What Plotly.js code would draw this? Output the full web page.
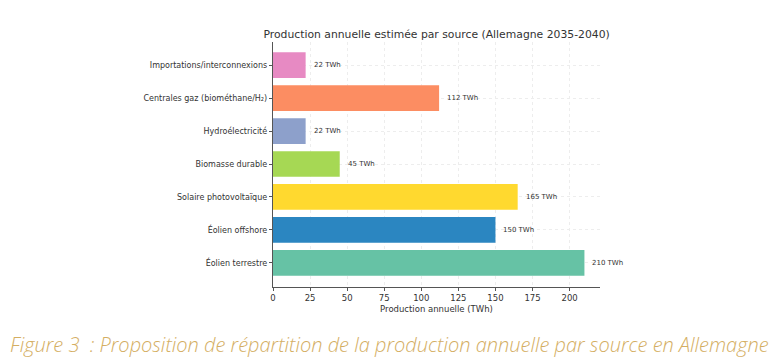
<!DOCTYPE html>
<html><head><meta charset="utf-8">
<script src="https://cdn.plot.ly/plotly-3.0.1.min.js"></script>
<style>html,body{margin:0;padding:0;background:#fff;}#chart{width:772px;height:361px;}</style>
</head><body><div id="chart"></div>
<script>
const categories = ["Éolien terrestre","Éolien offshore","Solaire photovoltaïque","Biomasse durable","Hydroélectricité","Centrales gaz (biométhane/H₂)","Importations/interconnexions"];
const values = [210,150,165,45,22,112,22];
const colors = ["#66c2a5","#2b86c1","#ffd92f","#a6d854","#8da0cb","#fc8d62","#e78ac3"];
const labels = values.map(v => v + " TWh");
const xTicks = [0,25,50,75,100,125,150,175,200];

const trace = {
  type: "bar", orientation: "h",
  y: categories, x: values,
  marker: {color: colors},
  width: 0.78,
  hoverinfo: "none"
};
const annotations = categories.map((c,i) => ({
  x: values[i], y: c, xref: "x", yref: "y", text: labels[i],
  showarrow: false, xanchor: "left", xshift: 6,
  font: {family: "DejaVu Sans", size: 7, color: "#333"}
}));
annotations.push({
  x: 0, xref: "paper", xanchor: "left", xshift: -265,
  y: -0.235, yref: "paper", yanchor: "middle",
  text: "<i>Figure 3  : Proposition de répartition de la production annuelle par source en Allemagne</i>",
  showarrow: false,
  font: {family: "Open Sans", size: 20, color: "#d4ae62", weight: 300}
});
const layout = {
  width: 772, height: 361,
  margin: {l: 273, r: 172, t: 42, b: 74},
  paper_bgcolor: "#fff", plot_bgcolor: "#fff",
  showlegend: false,
  title: {text: "Production annuelle estimée par source (Allemagne 2035-2040)",
    font: {family: "DejaVu Sans", size: 10.8, color: "#333"},
    x: 0.5655, xanchor: "center", y: 0.905, yanchor: "middle"},
  xaxis: {range: [0, 220.5], tickvals: xTicks, ticktext: xTicks.map(String),
    showgrid: true, gridcolor: "#ededed", griddash: "dot", gridwidth: 1,
    showline: true, linecolor: "#555", linewidth: 1.2,
    ticks: "outside", ticklen: 3, tickcolor: "#555",
    tickfont: {family: "DejaVu Sans", size: 8.5, color: "#333"},
    zeroline: false,
    title: {text: "Production annuelle (TWh)", standoff: 3, font: {family: "DejaVu Sans", size: 8.5, color: "#333"}}},
  yaxis: {type: "category", range: [-0.73, 6.7],
    showgrid: true, gridcolor: "#ededed", griddash: "dot", gridwidth: 1,
    showline: true, linecolor: "#555", linewidth: 1.2,
    ticks: "outside", ticklen: 3, tickcolor: "#555",
    tickfont: {family: "DejaVu Sans", size: 8, color: "#333"},
    zeroline: false},
  annotations: annotations
};
Plotly.newPlot("chart", [trace], layout, {staticPlot: true, displayModeBar: false});
</script></body></html>
